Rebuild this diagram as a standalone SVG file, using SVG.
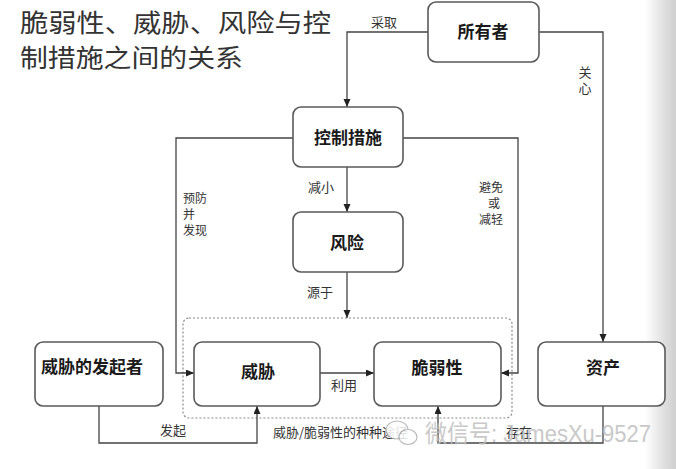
<svg xmlns="http://www.w3.org/2000/svg" width="676" height="469" viewBox="0 0 676 469">
<defs>
<style>
.box{fill:#fff;stroke:#5a5a5a;stroke-width:1.6}
.nt{font-family:"Noto Sans CJK SC","Noto Sans",sans-serif;font-weight:bold;font-size:17px;fill:#1a1a1a;text-anchor:middle}
.lb{font-family:"Noto Sans CJK SC","Noto Sans",sans-serif;font-size:13px;fill:#333}
.sm{font-size:12px}
.cn{fill:none;stroke:#444;stroke-width:1.3}
.title{font-family:"Noto Sans CJK SC","Noto Sans",sans-serif;font-size:25.5px;fill:#333}
</style>
<marker id="ar" markerUnits="userSpaceOnUse" markerWidth="9" markerHeight="8" refX="8" refY="3.5" orient="auto">
<path d="M0,0 L8,3.5 L0,7 z" fill="#222"/>
</marker>
<linearGradient id="side" x1="0" y1="0" x2="1" y2="0">
<stop offset="0" stop-color="#ffffff"/>
<stop offset="0.6" stop-color="#e0e0e0"/>
<stop offset="1" stop-color="#cfcfcf"/>
</linearGradient>
</defs>
<rect width="676" height="469" fill="#fff"/>
<rect x="645" y="0" width="31" height="469" fill="url(#side)"/>

<g id="title">
<text class="title" x="20" y="31.5" textLength="311" lengthAdjust="spacingAndGlyphs">脆弱性、威胁、风险与控</text>
<text class="title" x="20" y="67" textLength="223" lengthAdjust="spacingAndGlyphs">制措施之间的关系</text>
</g>

<g id="scope">
<rect x="183" y="318" width="329" height="100" rx="6" fill="none" stroke="#8a8a8a" stroke-width="1.2" stroke-dasharray="2,2"/>
</g>

<g id="connectors">
<path class="cn" d="M428,32 H347 V107" marker-end="url(#ar)"/>
<path class="cn" d="M539,32 H603 V342" marker-end="url(#ar)"/>
<path class="cn" d="M347,167 V212" marker-end="url(#ar)"/>
<path class="cn" d="M347,272 V318" marker-end="url(#ar)"/>
<path class="cn" d="M293,138 H176 V373 H194" marker-end="url(#ar)"/>
<path class="cn" d="M403,138 H518 V373 H501" marker-end="url(#ar)"/>
<path class="cn" d="M320,373 H374" marker-end="url(#ar)"/>
<path class="cn" d="M99,406 V443 H257 V406" marker-end="url(#ar)"/>
<path class="cn" d="M603,406 V443 H438 V406" marker-end="url(#ar)"/>
<text class="lb" x="371" y="27">采取</text>
<text class="lb" x="585" y="66" writing-mode="tb" letter-spacing="3">关心</text>
<text class="lb" x="308" y="192">减小</text>
<text class="lb" x="307" y="297">源于</text>
<text class="lb sm"><tspan x="183" y="203">预防</tspan><tspan x="183" y="219">并</tspan><tspan x="183" y="235">发现</tspan></text>
<text class="lb sm" text-anchor="end"><tspan x="503" y="192">避免</tspan><tspan x="500" y="208">或</tspan><tspan x="503" y="224">减轻</tspan></text>
<text class="lb" x="331" y="390">利用</text>
<text class="lb" x="160" y="435">发起</text>
<text class="lb" x="273" y="437">威胁/脆弱性的种种途径</text>
<text class="lb" x="506" y="437">存在</text>
</g>

<g id="owner">
<rect class="box" x="428" y="2" width="111" height="60" rx="8"/>
<text class="nt" x="483" y="38">所有者</text>
</g>
<g id="control">
<rect class="box" x="293" y="107" width="110" height="60" rx="8"/>
<text class="nt" x="348" y="144">控制措施</text>
</g>
<g id="risk">
<rect class="box" x="293" y="212" width="110" height="60" rx="8"/>
<text class="nt" x="347" y="249">风险</text>
</g>
<g id="agent">
<rect class="box" x="35" y="342" width="128" height="64" rx="8"/>
<text class="nt" x="92" y="373">威胁的发起者</text>
</g>
<g id="threat">
<rect class="box" x="194" y="342" width="126" height="64" rx="8"/>
<text class="nt" x="258" y="378">威胁</text>
</g>
<g id="vuln">
<rect class="box" x="374" y="342" width="127" height="64" rx="8"/>
<text class="nt" x="437" y="374">脆弱性</text>
</g>
<g id="asset">
<rect class="box" x="538" y="342" width="127" height="64" rx="8"/>
<text class="nt" x="603" y="374">资产</text>
</g>

<g id="watermark" opacity="0.85">
<ellipse cx="397" cy="430" rx="11" ry="9" fill="#fff" stroke="#b0b0b0" stroke-width="1.2"/>
<ellipse cx="408" cy="437" rx="9" ry="7.5" fill="#fff" stroke="#b0b0b0" stroke-width="1.2"/>
<text x="425" y="442" font-family="Liberation Sans,'Noto Sans CJK SC',sans-serif" font-size="24" fill="#c0c0c0" textLength="226" lengthAdjust="spacingAndGlyphs">微信号: JamesXu-9527</text>
</g>
</svg>
